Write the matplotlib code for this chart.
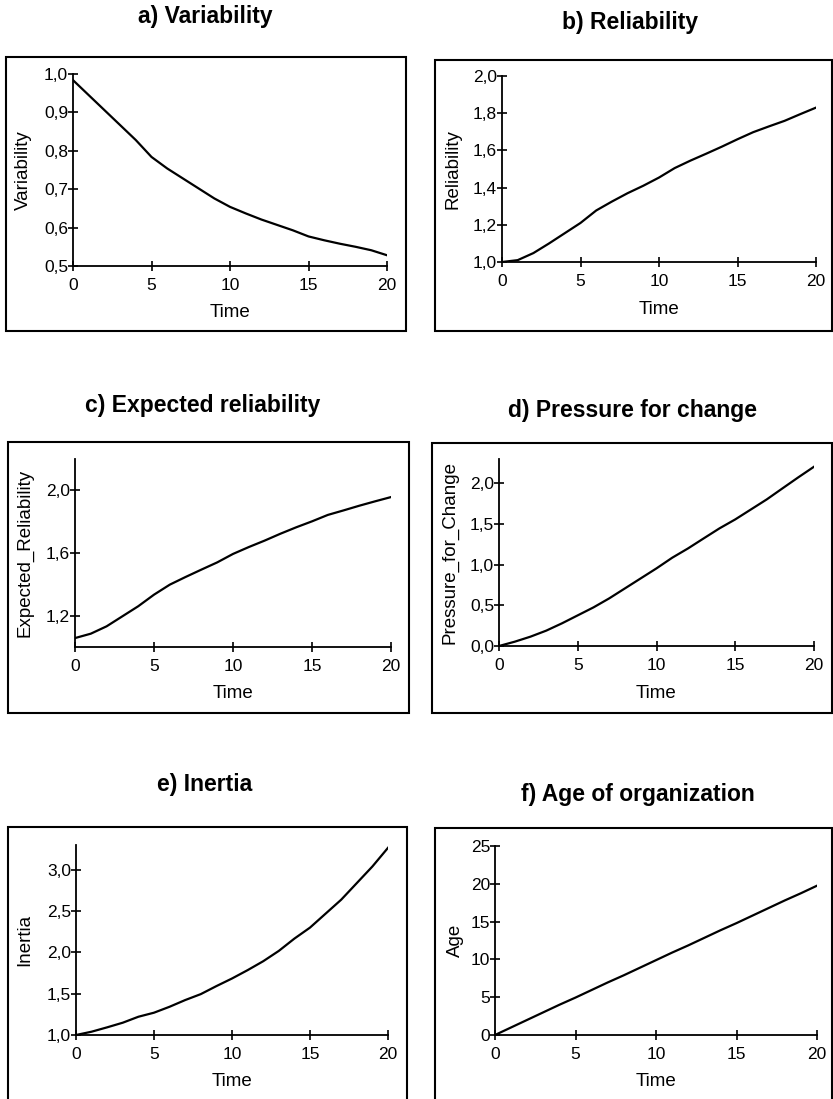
import matplotlib
matplotlib.use("Agg")
import matplotlib.pyplot as plt
from matplotlib.patches import Rectangle
from matplotlib.ticker import FuncFormatter
import numpy as np

plt.rcParams['font.family'] = ['Liberation Sans', 'DejaVu Sans']

# data
time = list(range(21))
variability = [0.984, 0.945, 0.906, 0.867, 0.828, 0.784, 0.754, 0.728, 0.702, 0.676, 0.654,
               0.637, 0.621, 0.607, 0.593, 0.577, 0.567, 0.558, 0.550, 0.541, 0.528]
reliability = [1.000, 1.010, 1.048, 1.100, 1.155, 1.210, 1.277, 1.325, 1.370, 1.410, 1.454,
               1.505, 1.545, 1.582, 1.620, 1.660, 1.698, 1.729, 1.759, 1.795, 1.830]
expected_reliability = [1.057, 1.085, 1.132, 1.196, 1.260, 1.334, 1.398, 1.447, 1.494, 1.540, 1.594,
                        1.638, 1.679, 1.723, 1.764, 1.802, 1.843, 1.872, 1.902, 1.930, 1.957]
pressure = [0.000, 0.053, 0.115, 0.189, 0.279, 0.377, 0.475, 0.586, 0.709, 0.832, 0.955,
            1.086, 1.200, 1.324, 1.447, 1.557, 1.680, 1.803, 1.939, 2.074, 2.205]
inertia = [1.000, 1.040, 1.093, 1.149, 1.221, 1.270, 1.342, 1.423, 1.495, 1.592, 1.684,
           1.785, 1.893, 2.018, 2.167, 2.300, 2.469, 2.638, 2.839, 3.040, 3.266]
age = [0.0, 1.0, 2.0, 3.0, 4.0, 4.95, 5.95, 6.95, 7.9, 8.9, 9.9,
       10.9, 11.85, 12.85, 13.85, 14.8, 15.8, 16.8, 17.8, 18.75, 19.75]

titles = ['a) Variability', 'b) Reliability', 'c) Expected reliability',
          'd) Pressure for change', 'e) Inertia', 'f) Age of organization']
ylabels = ['Variability', 'Reliability', 'Expected_Reliability',
           'Pressure_for_Change', 'Inertia', 'Age']
series = [variability, reliability, expected_reliability, pressure, inertia, age]
ylims = [(0.5, 1.0), (1.0, 2.0), (1.0, 2.2), (0.0, 2.3), (1.0, 3.3), (0, 25)]
yticks = [[0.5, 0.6, 0.7, 0.8, 0.9, 1.0],
          [1.0, 1.2, 1.4, 1.6, 1.8, 2.0],
          [1.2, 1.6, 2.0],
          [0.0, 0.5, 1.0, 1.5, 2.0],
          [1.0, 1.5, 2.0, 2.5, 3.0],
          [0, 5, 10, 15, 20, 25]]
ydecimals = [1, 1, 1, 1, 1, 0]
xticks = [0, 5, 10, 15, 20]

W, H = 833, 1099
fig = plt.figure(figsize=(W / 100, H / 100), dpi=100)

# layout in pixels: axes (left, right, top, bottom), box (left, top, right, bottom)
axes_px = [(73, 387, 74, 266), (502, 816, 76, 262),
           (75, 391, 459, 647), (499, 814, 459, 646),
           (76, 388, 845, 1035), (495, 817, 846, 1035)]
box_px = [(6, 57, 406, 331), (435, 60, 832, 331),
          (8, 442, 409, 713), (432, 443, 832, 713),
          (8, 827, 407, 1110), (435, 828, 832, 1110)]
title_px = [(205, 17), (630, 22), (203, 405), (633, 410), (205, 785), (638, 795)]
ylabel_x = [23, 453, 25, 450, 25, 455]
xlabel_gap = 47


def fx(x):
    return x / W


def fy(y):
    return 1 - y / H


for i in range(6):
    l, r, t, b = axes_px[i]
    ax = fig.add_axes([fx(l), fy(b), (r - l) / W, (b - t) / H])
    ax.plot(time, series[i], color='black', lw=1.6)
    ax.set_xlim(0, 20)
    ax.set_ylim(*ylims[i])
    ax.set_xticks(xticks)
    ax.set_yticks(yticks[i])
    d = ydecimals[i]
    ax.yaxis.set_major_formatter(FuncFormatter(lambda v, p, d=d: f"{v:.{d}f}".replace('.', ',')))
    for s in ['top', 'right']:
        ax.spines[s].set_visible(False)
    for s in ['left', 'bottom']:
        ax.spines[s].set_linewidth(1.3)
    ax.tick_params(axis='both', direction='inout', length=7, width=1.2, labelsize=12.5)
    ax.tick_params(axis='x', pad=5)
    ax.tick_params(axis='y', pad=0)
    ax.set_xlabel('Time', fontsize=13.5, va='center')
    ax.xaxis.set_label_coords(0.5, -xlabel_gap / (b - t))
    ax.set_ylabel(ylabels[i], fontsize=13.5, va='center')
    ax.yaxis.set_label_coords((ylabel_x[i] - l) / (r - l), 0.5)

    bl, bt, br, bb = box_px[i]
    fig.add_artist(Rectangle((fx(bl), fy(bb)), (br - bl) / W, (bb - bt) / H,
                             transform=fig.transFigure, fill=False, lw=1.5, color='black'))
    tx, ty = title_px[i]
    fig.text(fx(tx), fy(ty), titles[i], ha='center', va='center',
             fontsize=16.5, fontweight='bold')

fig.savefig('out.png', dpi=100)
